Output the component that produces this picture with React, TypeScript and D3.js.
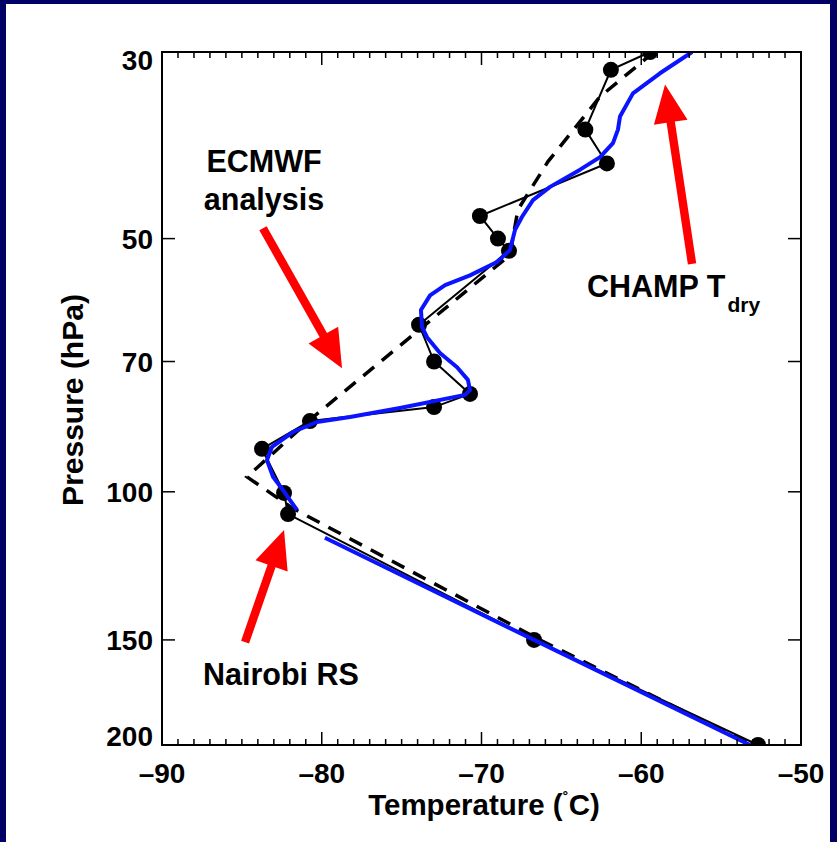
import React from "react";
import * as d3 from "d3";

// Temperature profile over Nairobi: radiosonde, ECMWF analysis and CHAMP dry temperature

const tempTicks = [-90, -80, -70, -60, -50];
const pressureTicks = [30, 50, 70, 100, 150, 200];

// Nairobi radiosonde (°C, hPa)
const nairobiT = [-59.45, -61.9, -63.5, -62.15, -70.1, -68.97, -68.28, -73.91, -72.97, -70.72, -72.97, -80.74, -83.74, -82.36, -82.11, -66.71, -52.69];
const nairobiP = [30, 31.5, 37.1, 40.7, 47.0, 50.0, 51.7, 63.3, 70.0, 76.5, 79.3, 82.4, 88.9, 100.3, 106.3, 150, 200];

// ECMWF analysis
const ecmwfT = [-59.2, -62.58, -65.84, -67.72, -68.22, -80.74, -84.68, -81.86, -66.34, -53.07];
const ecmwfP = [30, 33.9, 40.5, 46.2, 52.3, 82.1, 96.0, 104.5, 150, 200];

// CHAMP dry temperature, upper and lower segments
const champUpperT = [-56.82, -58.83, -60.52, -61.33, -61.46, -61.77, -62.58, -63.83, -65.71, -66.78, -67.46, -67.9, -68.22, -69.03, -70.72, -72.28, -73.22, -73.79, -73.72, -73.41, -72.6, -71.53, -70.85, -70.72, -71.03, -75.1, -78.23, -80.3, -81.8, -83.11, -83.43, -83.05, -82.43, -81.99, -81.55];
const champUpperP = [30, 31.8, 33.6, 35.8, 37.1, 38.5, 40.0, 41.4, 43.4, 45.0, 47.1, 48.8, 51.6, 53.3, 55.3, 56.8, 58.4, 60.8, 63.7, 65.5, 68.4, 71.1, 73.6, 75.7, 76.7, 79.5, 81.5, 82.6, 84.9, 88.4, 91.7, 96.0, 99.5, 102.3, 105.1];
const champLowerT = [-79.8, -66.71, -53.19];
const champLowerP = [113.4, 150, 200];

// Annotation arrows: [tailT, tailP, tipT, tipP]
const arrowECMWF = [-83.68, 48.6, -78.73, 71.3];
const arrowCHAMP = [-56.82, 53.6, -58.51, 32.8];
const arrowNairobi = [-84.8, 150.9, -82.36, 111];

const FONT = "'Liberation Sans', Arial, Helvetica, sans-serif";

const left = 162, right = 801, top = 52, bottom = 745;

const x = d3.scaleLinear().domain([-90, -50]).range([left, right]);
const y = d3.scaleLog().domain([30, 200]).range([top, bottom]);

type Pt = [number, number];
const zip = (t: number[], p: number[]): Pt[] => t.map((v, i) => [v, p[i]]);

const line = d3.line<Pt>().x(d => x(d[0])).y(d => y(d[1]));

function arrowPath(a: number[]) {
  const x0 = x(a[0]), y0 = y(a[1]), x1 = x(a[2]), y1 = y(a[3]);
  const dx = x1 - x0, dy = y1 - y0;
  const len = Math.hypot(dx, dy);
  const ux = dx / len, uy = dy / len;
  const nx = -uy, ny = ux;
  const headL = 38, headW = 17, shaftW = 4.2;
  const bx = x1 - ux * headL, by = y1 - uy * headL;
  const pts: Pt[] = [
    [x0 + nx * shaftW, y0 + ny * shaftW],
    [bx + nx * shaftW, by + ny * shaftW],
    [bx + nx * headW, by + ny * headW],
    [x1, y1],
    [bx - nx * headW, by - ny * headW],
    [bx - nx * shaftW, by - ny * shaftW],
    [x0 - nx * shaftW, y0 - ny * shaftW],
  ];
  return "M" + pts.map(p => p.join(",")).join("L") + "Z";
}

export default function App() {
  const minorTicks = d3.range(-90, -49, 1);
  const nairobi = zip(nairobiT, nairobiP);
  return (
    <svg width={837} height={842} style={{ display: "block", position: "absolute", left: 0, top: 0 }}>
      <rect x={0} y={0} width={837} height={842} fill="#ffffff" />
      {/* navy frame */}
      <rect x={0} y={0} width={837} height={4} fill="#000066" />
      <rect x={0} y={0} width={6} height={842} fill="#000066" />
      <rect x={830} y={0} width={7} height={842} fill="#000066" />

      <defs>
        <clipPath id="plotClip">
          <rect x={left} y={top} width={right - left} height={bottom - top} />
        </clipPath>
      </defs>

      <g clipPath="url(#plotClip)">
        <path d={line(zip(ecmwfT, ecmwfP)) || ""} fill="none" stroke="#000" strokeWidth={3.5} strokeDasharray="14,10" />
        <path d={line(nairobi) || ""} fill="none" stroke="#000" strokeWidth={2} />
        {nairobi.map((d, i) => (
          <circle key={i} cx={x(d[0])} cy={y(d[1])} r={8} fill="#000" />
        ))}
        <path d={line(zip(champUpperT, champUpperP)) || ""} fill="none" stroke="#0a14ff" strokeWidth={4} strokeLinejoin="round" />
        <path d={line(zip(champLowerT, champLowerP)) || ""} fill="none" stroke="#0a14ff" strokeWidth={4} strokeLinejoin="round" />
      </g>

      {/* axes box */}
      <rect x={left} y={top} width={right - left} height={bottom - top} fill="none" stroke="#000" strokeWidth={2} />
      {minorTicks.map(t => {
        const major = t % 10 === 0;
        const l = major ? 13 : 6;
        return (
          <g key={t} stroke="#000" strokeWidth={1.5}>
            <line x1={x(t)} x2={x(t)} y1={bottom} y2={bottom - l} />
            <line x1={x(t)} x2={x(t)} y1={top} y2={top + l} />
          </g>
        );
      })}
      {pressureTicks.map(p => (
        <g key={p} stroke="#000" strokeWidth={1.5}>
          <line x1={left} x2={left + 13} y1={y(p)} y2={y(p)} />
          <line x1={right} x2={right - 13} y1={y(p)} y2={y(p)} />
        </g>
      ))}

      {/* tick labels */}
      <g fontFamily={FONT} fontWeight="bold" fontSize={28} fill="#000">
        {tempTicks.map(t => (
          <text key={t} x={x(t)} y={783} textAnchor="middle">{"\u2013" + Math.abs(t)}</text>
        ))}
        {pressureTicks.map((p, i) => {
          let by = y(p) + 10;
          if (i === 0) by = y(p) + 18;
          if (i === pressureTicks.length - 1) by = y(p) + 1;
          return (
            <text key={p} x={153} y={by} textAnchor="end">{p}</text>
          );
        })}
        <text x={484} y={815} textAnchor="middle" fontSize={29.5}>Temperature (<tspan fontSize={18} dy={-10}>˚</tspan><tspan dy={10}>C)</tspan></text>
        <text transform="translate(83,400) rotate(-90)" textAnchor="middle" fontSize={30}>Pressure (hPa)</text>
      </g>

      {/* annotation arrows */}
      <g fill="#ff0000">
        <path d={arrowPath(arrowECMWF)} />
        <path d={arrowPath(arrowCHAMP)} />
        <path d={arrowPath(arrowNairobi)} />
      </g>

      <g fontFamily={FONT} fontWeight="bold" fontSize={30.5} fill="#000">
        <text x={264} y={172} textAnchor="middle">ECMWF</text>
        <text x={264} y={210} textAnchor="middle">analysis</text>
        <text x={587} y={297}>CHAMP T<tspan fontSize={21} dx={2} dy={15}>dry</tspan></text>
        <text x={203} y={685}>Nairobi RS</text>
      </g>
    </svg>
  );
}
